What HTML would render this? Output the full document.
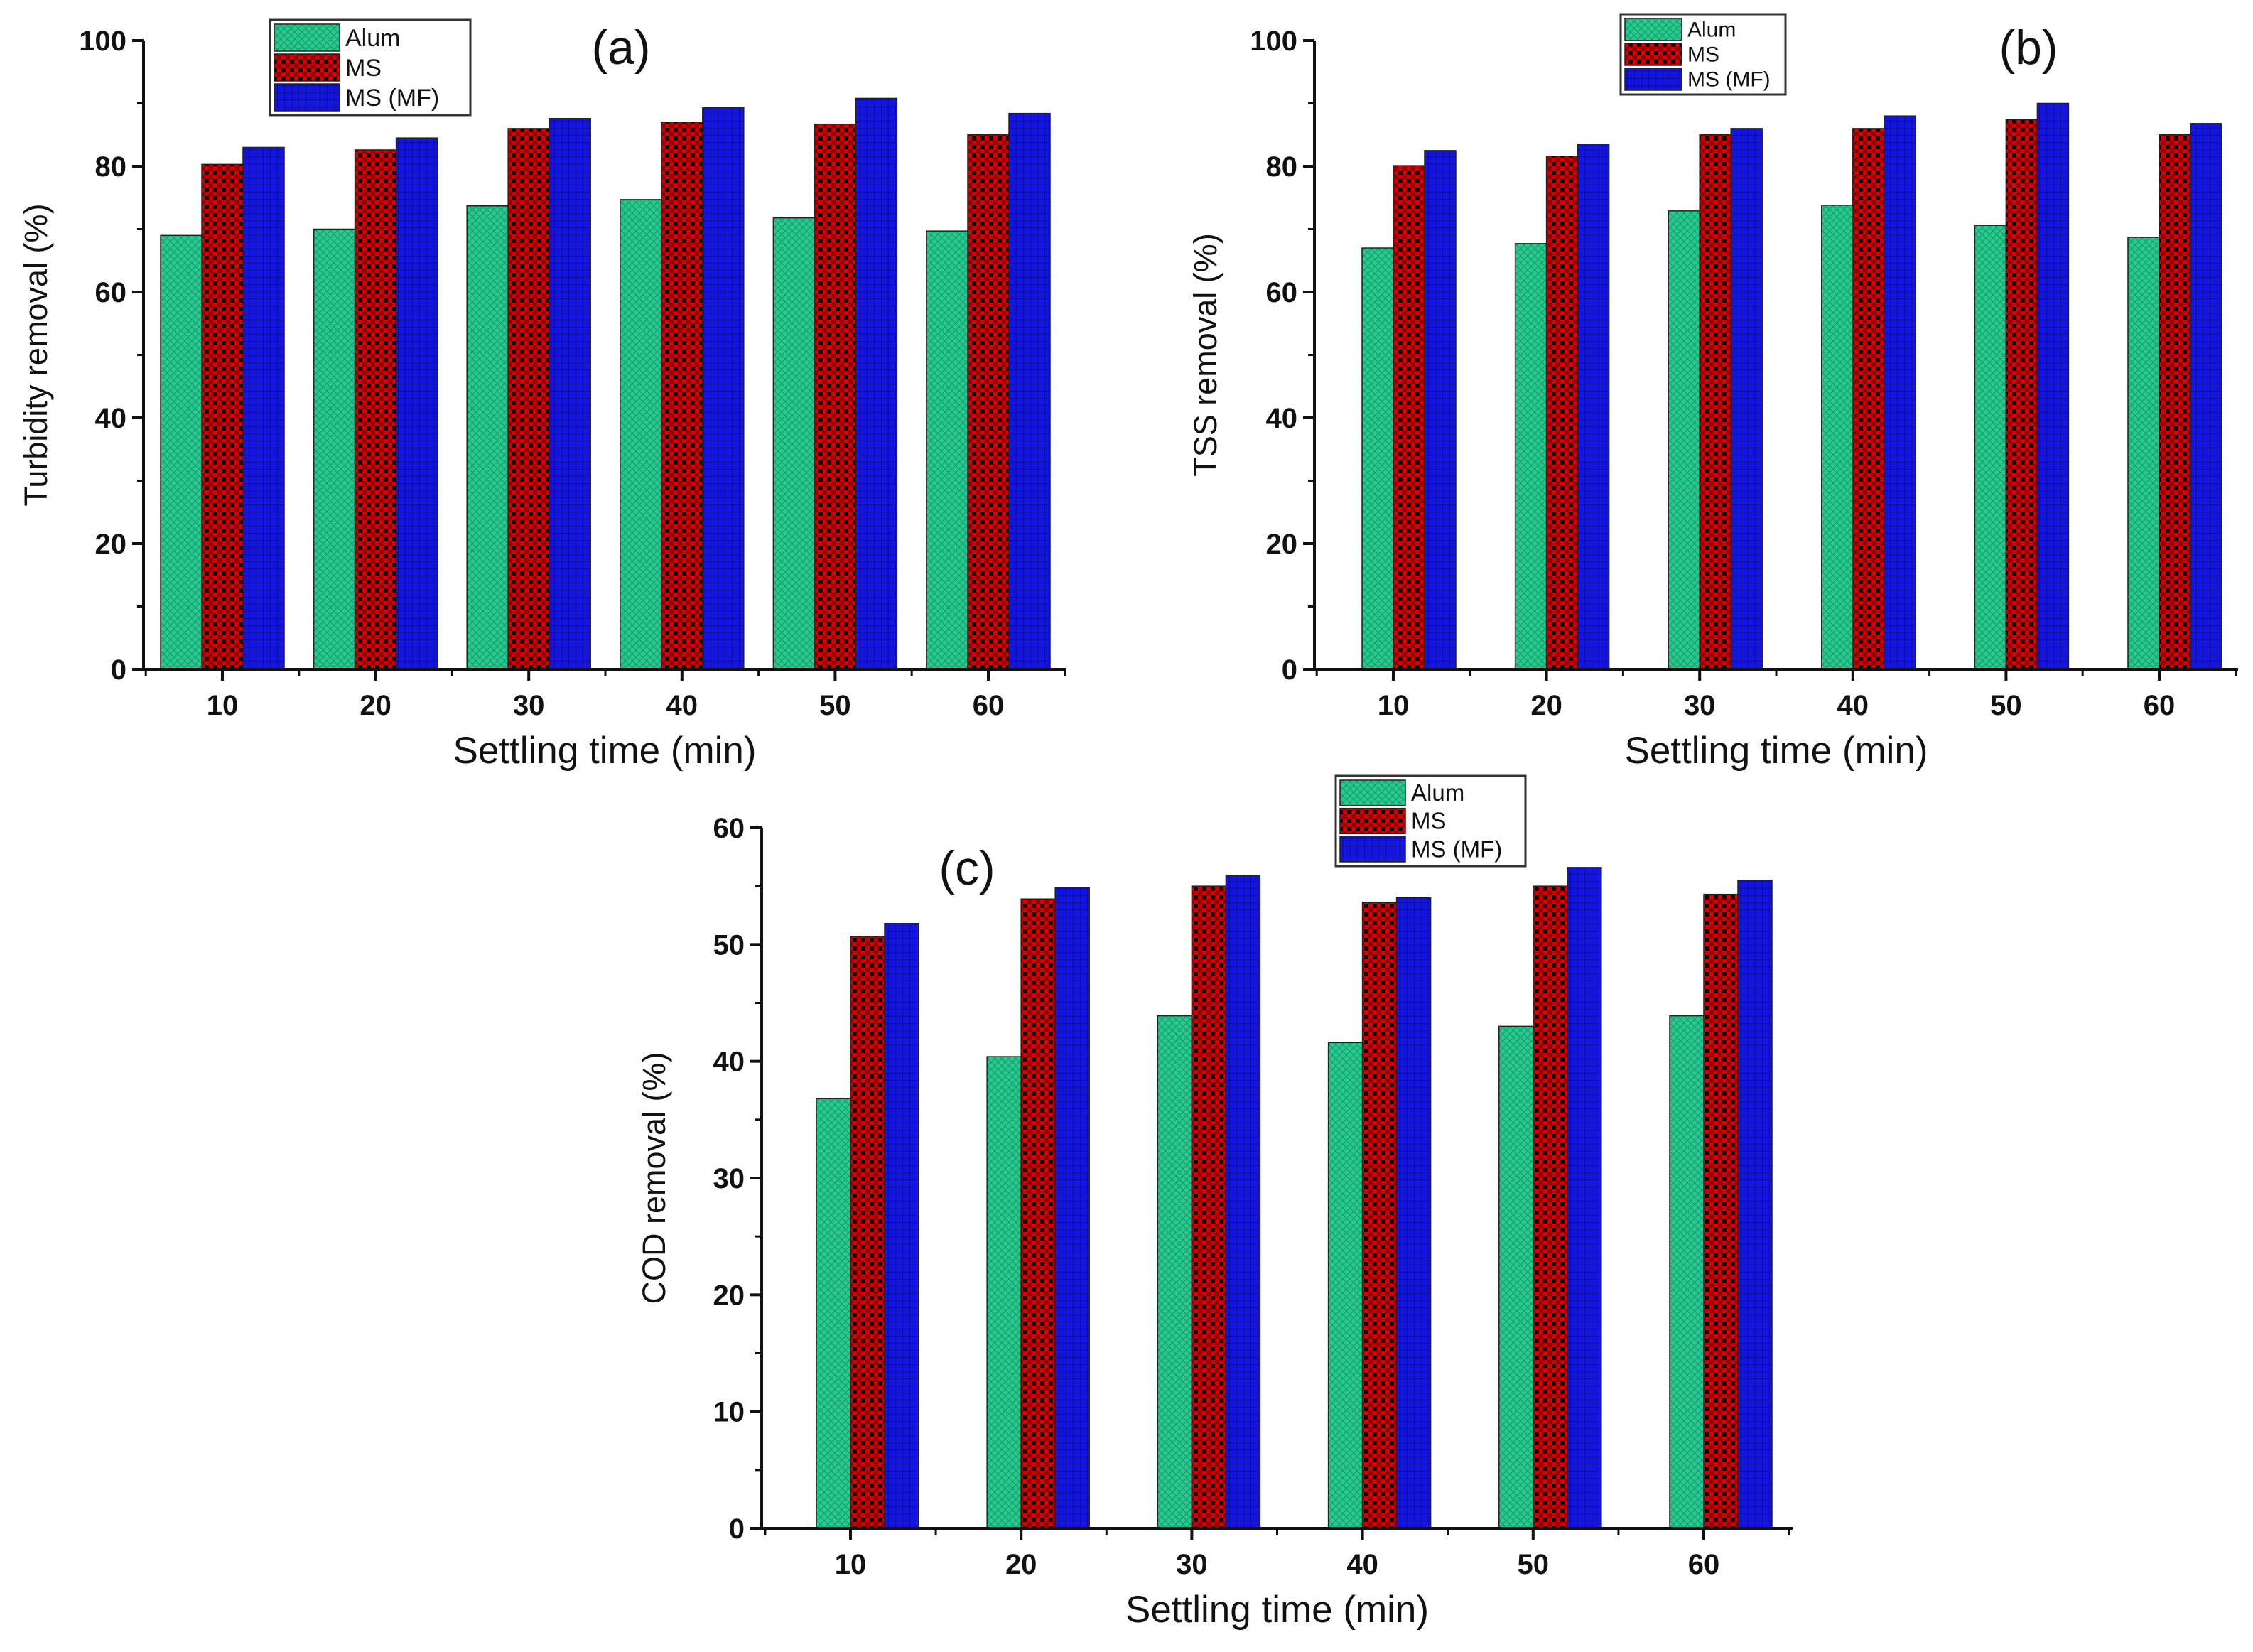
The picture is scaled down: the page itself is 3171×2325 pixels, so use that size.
<!DOCTYPE html>
<html><head><meta charset="utf-8"><style>
html,body{margin:0;padding:0;background:#fff}
svg{display:block}
text{font-family:"Liberation Sans",sans-serif;fill:#111}
</style></head><body>
<svg id="fig" width="3171" height="2325" viewBox="0 0 3171 2325" xmlns="http://www.w3.org/2000/svg">
<defs>
<pattern id="pg" width="10" height="10" patternUnits="userSpaceOnUse"><rect width="10" height="10" fill="#27c98f"/><path d="M0,0L10,10M10,0L0,10" stroke="#1a9c6c" stroke-width="1.2"/></pattern>
<pattern id="pr" width="12" height="12" patternUnits="userSpaceOnUse"><rect width="12" height="12" fill="#d40000"/><rect x="0" y="0" width="6" height="6" fill="#1a0000"/><rect x="6" y="6" width="6" height="6" fill="#1a0000" opacity="0.35"/></pattern>
<pattern id="pb" width="10" height="10" patternUnits="userSpaceOnUse"><rect width="10" height="10" fill="#1414e6"/><path d="M0,0H10M0,0V10" stroke="#0a0a90" stroke-width="1.5"/></pattern>
</defs>
<g id="root"></g>
</svg>
<script>
const categories = ["10","20","30","40","50","60"];
const seriesNames = ["Alum","MS","MS (MF)"];
const turbAlum = [69,70,73.7,74.7,71.8,69.7];
const turbMS = [80.3,82.6,86,87,86.7,85];
const turbMF = [83,84.5,87.6,89.3,90.8,88.4];
const tssAlum = [67,67.7,72.9,73.8,70.6,68.7];
const tssMS = [80.1,81.6,85,86,87.4,85];
const tssMF = [82.5,83.5,86,88,90,86.8];
const codAlum = [36.8,40.4,43.9,41.6,43,43.9];
const codMS = [50.7,53.9,55,53.6,55,54.3];
const codMF = [51.8,54.9,55.9,54,56.6,55.5];
const ticksAB = [0,20,40,60,80,100];
const ticksC = [0,10,20,30,40,50,60];

const NS="http://www.w3.org/2000/svg";
const root=document.getElementById('root');
function mk(tag,attrs,parent){const e=document.createElementNS(NS,tag);for(const k in attrs)e.setAttribute(k,attrs[k]);(parent||root).appendChild(e);return e;}
const fills=["url(#pg)","url(#pr)","url(#pb)"];

function panel(cfg){
  const g=mk('g',{});
  
  
  const ymax=cfg.ticks[cfg.ticks.length-1];
  const y=v=>cfg.y0-(v/ymax)*(cfg.y0-cfg.yTop);
  const x=i=>cfg.x10+i*cfg.dx;
  const series=[cfg.a,cfg.m,cfg.f];
  series.forEach((arr,s)=>{
    arr.forEach((v,i)=>{
      const cx=x(i)+(s-1)*cfg.bw+cfg.off;
      const r=mk('rect',{x:cx-cfg.bw/2,y:y(v),width:cfg.bw,height:cfg.y0-y(v),fill:fills[s],stroke:"#222","stroke-width":1.5},g);
      
      
    });
  });
  const ax=mk('path',{d:`M${cfg.ax},${cfg.yTop}V${cfg.y0}H${cfg.xEnd}`,stroke:"#111","stroke-width":4,fill:"none"},g);
  
  
  const step=cfg.ticks[1]-cfg.ticks[0];
  cfg.ticks.forEach((t,k)=>{
    mk('line',{x1:cfg.ax-16,x2:cfg.ax,y1:y(t),y2:y(t),stroke:"#111","stroke-width":4},g);
    if(k<cfg.ticks.length-1) mk('line',{x1:cfg.ax-9,x2:cfg.ax,y1:y(t+step/2),y2:y(t+step/2),stroke:"#111","stroke-width":3},g);
    const tl=mk('text',{x:cfg.ax-24,y:y(t)+14,"text-anchor":"end","font-size":40,"font-weight":"bold"},g);
    tl.textContent=t;
    
    
  });
  categories.forEach((c,i)=>{
    mk('line',{x1:x(i),x2:x(i),y1:cfg.y0,y2:cfg.y0+16,stroke:"#111","stroke-width":4},g);
    mk('line',{x1:x(i)-cfg.dx/2,x2:x(i)-cfg.dx/2,y1:cfg.y0,y2:cfg.y0+10,stroke:"#111","stroke-width":3},g);
    const tl=mk('text',{x:x(i),y:cfg.y0+64,"text-anchor":"middle","font-size":40,"font-weight":"bold"},g);
    tl.textContent=c;
    
    
  });
  mk('line',{x1:x(5)+cfg.dx/2,x2:x(5)+cfg.dx/2,y1:cfg.y0,y2:cfg.y0+10,stroke:"#111","stroke-width":3},g);
  const xt=mk('text',{x:(cfg.ax+cfg.xEnd)/2,y:cfg.y0+132,"text-anchor":"middle","font-size":53},g);
  xt.textContent="Settling time (min)";
  
  
  const yc=(cfg.y0+cfg.yTop)/2;
  const yt=mk('text',{x:cfg.ytx,y:yc,"text-anchor":"middle","font-size":45,transform:`rotate(-90 ${cfg.ytx} ${yc})`},g);
  yt.textContent=cfg.ytitle;
  
  
  const pl=mk('text',{x:cfg.lx,y:cfg.ly,"text-anchor":"middle","font-size":68},g);
  pl.textContent=cfg.label;
  
  
  const L=cfg.leg;
  const lg=mk('g',{},g);
  
  
  mk('rect',{x:L.x,y:L.y,width:L.w,height:L.h,fill:"#fff",stroke:"#333","stroke-width":3},lg);
  const rh=(L.h-8)/3;
  seriesNames.forEach((n,s)=>{
    const e=mk('g',{},lg);
    
    
    mk('rect',{x:L.x+6,y:L.y+4+s*rh+2,width:L.sw,height:rh-4,fill:fills[s],stroke:"#222","stroke-width":1.5},e);
    const t=mk('text',{x:L.x+L.sw+14,y:L.y+4+s*rh+rh*0.78,"font-size":L.fs},e);
    t.textContent=n;
  });
}

panel({name:'chart-turbidity',a:turbAlum,m:turbMS,f:turbMF,ticks:ticksAB,ax:202,y0:942,yTop:57,xEnd:1500,x10:313,dx:215.6,bw:58,off:0,
  ytitle:"Turbidity removal (%)",ytx:66,label:"(a)",lx:874,ly:90,leg:{x:380,y:28,w:282,h:134,sw:92,fs:34}});
panel({name:'chart-tss',a:tssAlum,m:tssMS,f:tssMF,ticks:ticksAB,ax:1850,y0:942,yTop:57,xEnd:3150,x10:1961,dx:215.6,bw:44,off:22,
  ytitle:"TSS removal (%)",ytx:1712,label:"(b)",lx:2855,ly:90,leg:{x:2281,y:20,w:232,h:113,sw:80,fs:30}});
panel({name:'chart-cod',a:codAlum,m:codMS,f:codMF,ticks:ticksC,ax:1072,y0:2151,yTop:1165,xEnd:2523,x10:1197,dx:240.2,bw:48,off:24,
  ytitle:"COD removal (%)",ytx:936,label:"(c)",lx:1361,ly:1245,leg:{x:1880,y:1092,w:267,h:127,sw:92,fs:33}});
</script>
</body></html>
